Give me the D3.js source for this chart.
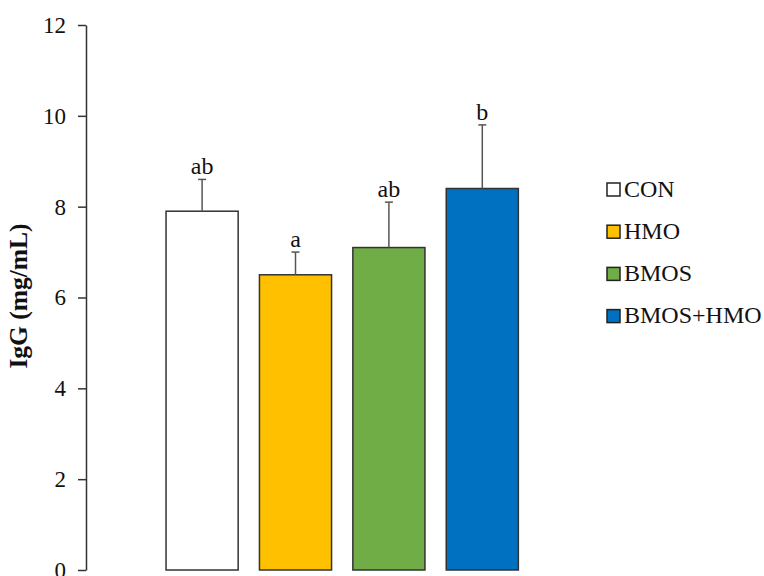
<!DOCTYPE html>
<html>
<head>
<meta charset="utf-8">
<script src="https://cdn.jsdelivr.net/npm/d3@7"></script>
<style>
  html, body { margin: 0; padding: 0; background: #fff; }
  svg { display: block; }
  text { font-family: "Liberation Serif", "Times New Roman", serif; fill: #111; }
</style>
</head>
<body>
<svg id="chart" width="764" height="576"></svg>
<script>
// Serum IgG by diet group
const groups = ["CON", "HMO", "BMOS", "BMOS+HMO"];
const means = [7.9, 6.5, 7.1, 8.4];
const sds = [0.7, 0.5, 1.0, 1.4];
const letters = ["ab", "a", "ab", "b"];
const fills = ["#FFFFFF", "#FFC000", "#70AD47", "#0070C0"];
const yTicks = [0, 2, 4, 6, 8, 10, 12];

const svg = d3.select("#chart");

const x = d3.scaleBand()
  .domain(groups)
  .range([155.4, 529])
  .paddingInner(0.228)
  .paddingOuter(0.114);

const y = d3.scaleLinear().domain([0, 12]).range([570, 25]);

// Y axis
const yAxis = d3.axisLeft(y)
  .tickValues(yTicks)
  .tickSize(8)
  .tickPadding(12)
  .tickSizeOuter(0);

const gy = svg.append("g")
  .attr("transform", "translate(86,0)")
  .call(yAxis);
gy.select(".domain").attr("stroke", "#333").attr("stroke-width", 1.5);
gy.selectAll(".tick line").attr("stroke", "#333").attr("stroke-width", 1.5);
gy.selectAll(".tick text")
  .attr("font-family", "Liberation Serif, Times New Roman, serif")
  .attr("font-size", 23)
  .attr("fill", "#111");

// Axis title
svg.append("text")
  .attr("transform", "translate(27,296) rotate(-90)")
  .attr("text-anchor", "middle")
  .attr("font-size", 25.5)
  .attr("font-weight", "bold")
  .text("IgG (mg/mL)");

const data = groups.map((g, i) => ({ g, m: means[i], sd: sds[i], l: letters[i], c: fills[i] }));

// Bars
svg.append("g").selectAll("rect")
  .data(data)
  .join("rect")
  .attr("x", d => x(d.g))
  .attr("y", d => y(d.m))
  .attr("width", x.bandwidth())
  .attr("height", d => y(0) - y(d.m))
  .attr("fill", d => d.c)
  .attr("stroke", "#333")
  .attr("stroke-width", 1.5);

// Error bars (upper whisker only)
const eb = svg.append("g").attr("stroke", "#555").attr("stroke-width", 1.5);
eb.selectAll("line.v")
  .data(data)
  .join("line")
  .attr("class", "v")
  .attr("x1", d => x(d.g) + x.bandwidth() / 2)
  .attr("x2", d => x(d.g) + x.bandwidth() / 2)
  .attr("y1", d => y(d.m))
  .attr("y2", d => y(d.m + d.sd));
eb.selectAll("line.cap")
  .data(data)
  .join("line")
  .attr("class", "cap")
  .attr("x1", d => x(d.g) + x.bandwidth() / 2 - 4)
  .attr("x2", d => x(d.g) + x.bandwidth() / 2 + 4)
  .attr("y1", d => y(d.m + d.sd))
  .attr("y2", d => y(d.m + d.sd));

// Significance letters
svg.append("g").selectAll("text")
  .data(data)
  .join("text")
  .attr("x", d => x(d.g) + x.bandwidth() / 2)
  .attr("y", d => y(d.m + d.sd) - 5)
  .attr("text-anchor", "middle")
  .attr("font-size", 24)
  .text(d => d.l);

// Legend
const legend = svg.append("g").attr("transform", "translate(607,183)");
const row = legend.selectAll("g")
  .data(data)
  .join("g")
  .attr("transform", (d, i) => `translate(0,${i * 42.2})`);
row.append("rect")
  .attr("width", 13)
  .attr("height", 13)
  .attr("fill", d => d.c)
  .attr("stroke", "#222")
  .attr("stroke-width", 1.5);
row.append("text")
  .attr("x", 17)
  .attr("y", 13.5)
  .attr("font-size", 24)
  .text(d => d.g);
</script>
</body>
</html>
